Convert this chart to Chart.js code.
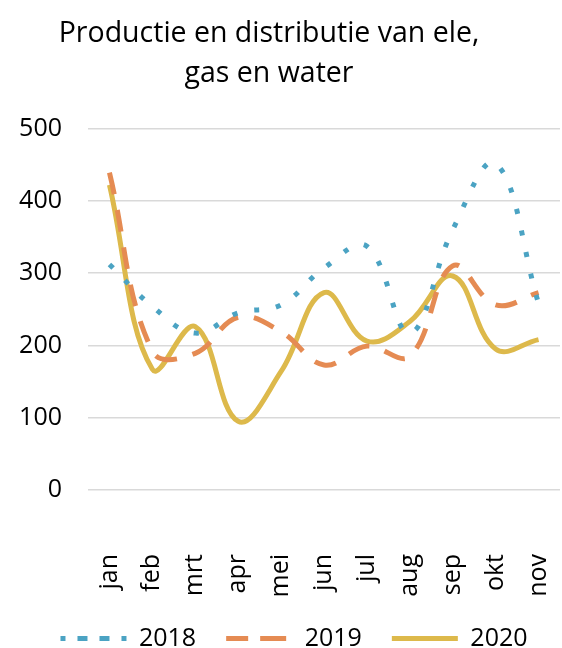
<!DOCTYPE html>
<html>
<head>
<meta charset="utf-8">
<script src="https://cdn.jsdelivr.net/npm/chart.js@4.4.1/dist/chart.umd.min.js"></script>
<style>
    html, body { margin: 0; padding: 0; background: #ffffff; }
    #wrap { width: 562px; height: 648px; }
</style>
</head>
<body>
<div id="wrap"><canvas id="productieChart" width="562" height="648"></canvas></div>
<script>
// Chart data
const months = ["jan", "feb", "mrt", "apr", "mei", "jun", "jul", "aug", "sep", "okt", "nov"];
const values2018 = [312, 254, 217, 245, 256, 307, 337, 217, 360, 452, 258];
const values2019 = [439, 192, 189, 239, 219, 173, 199, 185, 310, 256, 273];
const values2020 = [422, 167, 226, 95, 164, 273, 206, 233, 296, 195, 208];
const yTicks = [0, 100, 200, 300, 400, 500];

const fontFamily = "'Open Sans', 'Noto Sans', sans-serif";

// Nudge title and legend sideways, and let the rotated month labels draw below the axis box
const boxTweaks = {
    id: "boxTweaks",
    afterLayout(chart) {
        chart.titleBlock.right -= 22;
        chart.legend.left += 28;
        chart.scales.x.bottom += 25;
    }
};

new Chart(document.getElementById("productieChart"), {
    type: "line",
    data: {
        labels: months,
        datasets: [
            {
                label: "2018",
                data: values2018,
                borderColor: "#4BA3C3",
                backgroundColor: "#4BA3C3",
                borderWidth: 5,
                borderDash: [5, 17],
                borderCapStyle: "butt",
                pointRadius: 0,
                tension: 0.4
            },
            {
                label: "2019",
                data: values2019,
                borderColor: "#E58B53",
                backgroundColor: "#E58B53",
                borderWidth: 5,
                borderDash: [22, 16],
                borderCapStyle: "butt",
                pointRadius: 0,
                tension: 0.4
            },
            {
                label: "2020",
                data: values2020,
                borderColor: "#DDB94B",
                backgroundColor: "#DDB94B",
                borderWidth: 5,
                pointRadius: 0,
                tension: 0.4
            }
        ]
    },
    options: {
        responsive: false,
        animation: false,
        layout: { padding: { left: 0, right: 2, top: 13, bottom: -13 } },
        plugins: {
            title: {
                display: true,
                text: ["Productie en distributie van ele,", "gas en water"],
                color: "#000000",
                font: { family: fontFamily, size: 28.5, weight: "normal", lineHeight: 1.43 },
                padding: { top: 0, bottom: 34 }
            },
            legend: {
                position: "bottom",
                labels: {
                    color: "#000000",
                    font: { family: fontFamily, size: 25 },
                    boxWidth: 66,
                    boxHeight: 0,
                    padding: 30
                }
            },
            tooltip: { enabled: false }
        },
        scales: {
            x: {
                offset: true,
                grid: { display: false, drawTicks: false },
                border: { display: false },
                ticks: {
                    color: "#000000",
                    font: { family: fontFamily, size: 25 },
                    maxRotation: 90,
                    minRotation: 90,
                    padding: 64
                },
                afterFit: axis => {
                    axis.paddingLeft = 0;
                    axis.paddingRight = 0;
                    axis.height = 106;
                }
            },
            y: {
                min: 0,
                max: 500,
                afterBuildTicks: axis => { axis.ticks = yTicks.map(v => ({ value: v })); },
                grid: { color: "#D9D9D9", lineWidth: 1.5, drawTicks: false },
                border: { display: false },
                ticks: {
                    color: "#000000",
                    font: { family: fontFamily, size: 25 },
                    padding: 26
                },
                afterFit: axis => {
                    axis.width = 88;
                }
            }
        }
    },
    plugins: [boxTweaks]
});
</script>
</body>
</html>
